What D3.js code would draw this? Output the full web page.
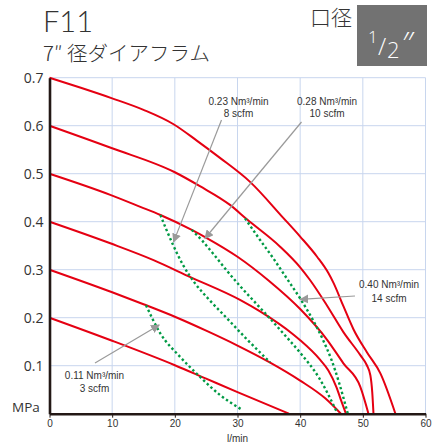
<!DOCTYPE html>
<html><head><meta charset="utf-8">
<script src="https://cdn.jsdelivr.net/npm/d3@7"></script>
<style>body{margin:0;background:#fff}svg{display:block}</style>
</head><body>
<script>
// ---- data ----
const xTicks = [0,10,20,30,40,50,60];
const yTicks = [0.1,0.2,0.3,0.4,0.5,0.6,0.7];
const p07 = [[0,0.7],[5,0.679],[10,0.657],[15,0.633],[19.8,0.603],[23.5,0.569],[27.2,0.533],[32,0.483],[37.3,0.408],[40,0.369],[42.7,0.327],[44.5,0.293],[45.3,0.273],[46.9,0.224],[48.5,0.176],[50.7,0.127],[52.8,0.084],[55.2,0]];
const p06 = [[0,0.6],[10,0.553],[20,0.503],[24,0.474],[28.8,0.435],[31.5,0.405],[36.8,0.348],[40,0.305],[41.6,0.278],[44.3,0.225],[46.9,0.17],[49.6,0.122],[50.6,0.102],[51.2,0.08],[51.5,0.045],[51.7,0]];
const p05 = [[0,0.5],[9.7,0.456],[14.5,0.431],[17.7,0.414],[22.7,0.383],[25.1,0.366],[30,0.327],[35,0.277],[40,0.218],[44.3,0.154],[46.9,0.105],[49.6,0.056],[50.9,0]];
const p04 = [[0,0.4],[9.7,0.355],[16.6,0.32],[22.4,0.285],[30.4,0.237],[33.6,0.213],[38.9,0.165],[40,0.153],[43.2,0.112],[44.5,0.09],[45.8,0.055],[46.6,0.025],[47.3,0]];
const p03 = [[0,0.3],[10,0.253],[15,0.228],[20,0.202],[25,0.173],[30,0.142],[35,0.108],[40,0.069],[44,0.032],[46.5,0]];
const p02 = [[0,0.2],[10,0.152],[20,0.101],[25,0.073],[30,0.045],[38.2,0]];
const a011 = [[15.4,0.226],[17.7,0.167],[20.8,0.119],[24,0.077],[27.2,0.039],[30.5,0.01]];
const a023 = [[17.7,0.414],[18.6,0.385],[19.6,0.355],[21.3,0.31],[23.2,0.272],[25.3,0.24],[28.3,0.199],[31.5,0.155],[35.2,0.107]];
const a028 = [[22.7,0.383],[24.4,0.36],[26.2,0.332],[28.3,0.298],[30.4,0.266],[32.8,0.232],[35.2,0.198],[37.6,0.163],[40,0.127],[43,0.075],[45.8,0.005]];
const a040 = [[31.2,0.407],[33.6,0.362],[35.8,0.322],[37.8,0.283],[40,0.24],[42,0.196],[43.6,0.155],[45,0.112],[46.2,0.065],[47.6,0]];
const pressureCurves = [p07,p06,p05,p04,p03,p02];
const airCurves = [a011,a023,a028,a040];
const airLabels = [["0.11 Nm³/min","3 scfm"],["0.23 Nm³/min","8 scfm"],["0.28 Nm³/min","10 scfm"],["0.40 Nm³/min","14 scfm"]];

// ---- drawing ----
const W=433,H=448;
const svg=d3.select("body").append("svg").attr("width",W).attr("height",H);
const x=d3.scaleLinear().domain([0,60]).range([49.5,425.5]);
const y=d3.scaleLinear().domain([0,0.7]).range([413.7,77.7]);
const sans="'Liberation Sans', Arial, sans-serif";

// grid
const g=svg.append("g");
g.selectAll(".vg").data(xTicks.slice(1)).join("line")
 .attr("x1",d=>x(d)).attr("x2",d=>x(d)).attr("y1",y(0)).attr("y2",y(0.7))
 .attr("stroke","#c8d6ee").attr("stroke-width",1);
g.selectAll(".hg").data(yTicks).join("line")
 .attr("x1",x(0)).attr("x2",x(60)).attr("y1",d=>y(d)).attr("y2",d=>y(d))
 .attr("stroke","#c8d6ee").attr("stroke-width",1);

// curves
const line=d3.line().x(d=>x(d[0])).y(d=>y(d[1])).curve(d3.curveMonotoneX);
svg.append("g").selectAll("path").data(pressureCurves).join("path")
 .attr("d",line).attr("fill","none").attr("stroke","#e50012").attr("stroke-width",2);
svg.append("g").selectAll("path").data(airCurves).join("path")
 .attr("d",line).attr("fill","none").attr("stroke","#009a44").attr("stroke-width",2.4)
 .attr("stroke-dasharray","2.4,2.6");

// axes
const ax=svg.append("g").attr("transform",`translate(0,${y(0)})`)
 .call(d3.axisBottom(x).tickValues(xTicks).tickSize(4).tickSizeOuter(0).tickPadding(2.5));
ax.select(".domain").attr("stroke","#231815").attr("stroke-width",2.6);
ax.selectAll(".tick line").attr("stroke","#231815").attr("stroke-width",1);
ax.selectAll("text").attr("font-family",sans).attr("font-size",10).attr("fill","#333");
const ay=svg.append("g").attr("transform",`translate(${x(0)},0)`)
 .call(d3.axisLeft(y).tickValues(yTicks).tickSize(0).tickSizeOuter(0).tickPadding(6).tickFormat(d3.format(".1f")));
ay.select(".domain").attr("stroke","#231815").attr("stroke-width",2.6);
ay.selectAll("text").attr("font-family","'Open Sans', sans-serif").attr("font-size",14).attr("fill","#333");

svg.append("text").attr("x",26).attr("y",412).attr("text-anchor","middle")
 .attr("font-family","'Open Sans', sans-serif").attr("font-size",13.5).attr("fill","#333").text("MPa");
svg.append("text").attr("x",237.5).attr("y",442).attr("text-anchor","middle")
 .attr("font-family",sans).attr("font-size",10).attr("fill","#333").text("l/min");

// arrows
svg.append("defs").append("marker").attr("id","ah").attr("viewBox","0 0 10 10")
 .attr("refX",9).attr("refY",5).attr("markerWidth",9).attr("markerHeight",9)
 .attr("markerUnits","userSpaceOnUse").attr("orient","auto")
 .append("path").attr("d","M0,0L10,5L0,10Z").attr("fill","#9a9a9a");
const arrowSpecs=[ // [label index, from px (label anchor), to data point]
 [0,[95,363],[17.5,0.185]],
 [1,[221.5,120],[19.8,0.358]],
 [2,[301.5,122],[24.8,0.365]],
 [3,[355,296],[40,0.238]]
];
svg.append("g").selectAll("line").data(arrowSpecs).join("line")
 .attr("x1",d=>d[1][0]).attr("y1",d=>d[1][1]).attr("x2",d=>x(d[2][0])).attr("y2",d=>y(d[2][1]))
 .attr("stroke","#9a9a9a").attr("stroke-width",1.2).attr("marker-end","url(#ah)");

const labelPos=[[94.5,379,391.5],[238.5,104.5,117],[327,104.5,117],[389,288,301.5]];
labelPos.forEach((p,i)=>{
 [0,1].forEach(k=>svg.append("text").attr("x",p[0]).attr("y",p[1+k]).attr("text-anchor","middle")
  .attr("font-family",sans).attr("font-size",10).attr("fill","#333").text(airLabels[i][k]));
});

// titles
svg.append("text").attr("x",43).attr("y",32).attr("font-family","Lato, 'Open Sans', sans-serif")
 .attr("font-weight",300).attr("font-size",29).attr("fill","#333").text("F11");
svg.append("text").attr("x",43).attr("y",61).attr("font-family","'Noto Sans CJK JP', sans-serif")
 .attr("font-weight",300).attr("font-size",20.5).attr("fill","#333").text("7″ 径ダイアフラム");
svg.append("text").attr("x",310).attr("y",24.5).attr("font-family","'Noto Sans CJK JP', sans-serif")
 .attr("font-weight",300).attr("font-size",21).attr("fill","#333").text("口径");
svg.append("rect").attr("x",357).attr("y",5).attr("width",70).attr("height",61).attr("fill","#727272");
const bt=svg.append("text").attr("fill","#fff").attr("font-family","'Open Sans', sans-serif").attr("font-weight",300);
bt.append("tspan").attr("x",368).attr("y",43).attr("font-size",17).text("1");
bt.append("tspan").attr("x",378).attr("y",55).attr("font-size",24).text("/");
bt.append("tspan").attr("x",387).attr("y",58).attr("font-size",22).text("2");
bt.append("tspan").attr("x",401).attr("y",54).attr("font-size",32).attr("font-style","italic").text("″");
</script>
</body></html>
